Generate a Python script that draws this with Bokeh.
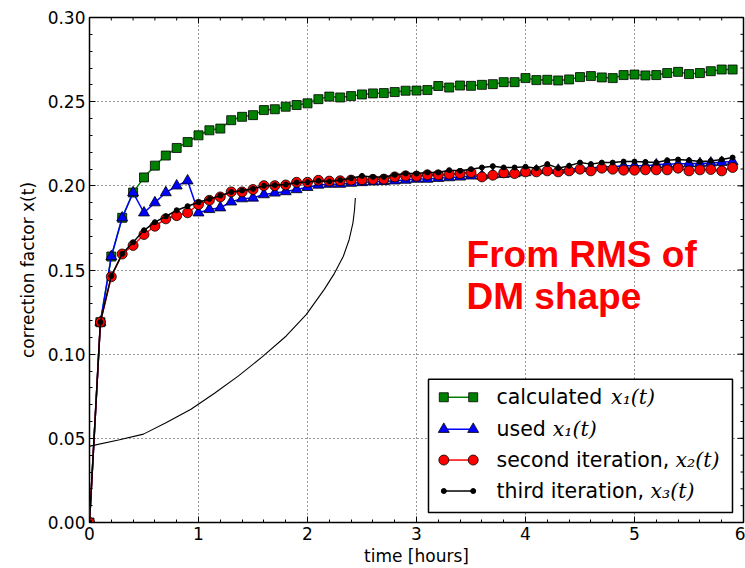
from bokeh.core.properties import value
from bokeh.embed import file_html
from bokeh.models import FixedTicker, PrintfTickFormatter, Range1d
from bokeh.plotting import figure
from bokeh.resources import INLINE

# ---------------------------------------------------------------- data
time_h = [0.0, 0.1, 0.2, 0.3, 0.4, 0.5, 0.6, 0.7, 0.8, 0.9,
          1.0, 1.1, 1.2, 1.3, 1.4, 1.5, 1.6, 1.7, 1.8, 1.9,
          2.0, 2.1, 2.2, 2.3, 2.4, 2.5, 2.6, 2.7, 2.8, 2.9,
          3.0, 3.1, 3.2, 3.3, 3.4, 3.5, 3.6, 3.7, 3.8, 3.9,
          4.0, 4.1, 4.2, 4.3, 4.4, 4.5, 4.6, 4.7, 4.8, 4.9,
          5.0, 5.1, 5.2, 5.3, 5.4, 5.5, 5.6, 5.7, 5.8, 5.9]

calculated_x1 = [0.0, 0.119, 0.158, 0.181, 0.196, 0.205, 0.212, 0.218, 0.2225, 0.226,
                 0.230, 0.233, 0.234, 0.239, 0.241, 0.242, 0.245, 0.2455, 0.247, 0.248,
                 0.249, 0.2515, 0.253, 0.2525, 0.2533, 0.2543, 0.2549, 0.2551, 0.2557, 0.2565,
                 0.2566, 0.2569, 0.2593, 0.2584, 0.2596, 0.2594, 0.2600, 0.2604, 0.2616, 0.2616,
                 0.2640, 0.2628, 0.2630, 0.2626, 0.2632, 0.2646, 0.2652, 0.2644, 0.2640, 0.2658,
                 0.2661, 0.2656, 0.2658, 0.2670, 0.2677, 0.2664, 0.2670, 0.2681, 0.2691, 0.2691]

used_x1 = [0.0, 0.119, 0.158, 0.181, 0.196, 0.184, 0.190, 0.196, 0.200, 0.203,
           0.184, 0.186, 0.187, 0.1905, 0.1924, 0.1928, 0.1948, 0.1958, 0.1966, 0.1978,
           0.1991, 0.2005, 0.2010, 0.2010, 0.2016, 0.2020, 0.2024, 0.2026, 0.2030, 0.2034,
           0.2040, 0.2040, 0.2045, 0.2049, 0.2053, 0.2059, 0.2059, 0.2065, 0.2069, 0.2073,
           0.2079, 0.2089, 0.2093, 0.2093, 0.2099, 0.2105, 0.2105, 0.2113, 0.2113, 0.2119,
           0.2119, 0.2119, 0.2125, 0.2129, 0.2129, 0.2132, 0.2132, 0.2136, 0.2140, 0.2144]

second_x2 = [0.0, 0.119, 0.146, 0.1595, 0.1646, 0.1711, 0.1760, 0.1804, 0.1823, 0.1840,
             0.1889, 0.1914, 0.1934, 0.1964, 0.1964, 0.1978, 0.2001, 0.2001, 0.2005, 0.2021,
             0.2021, 0.2033, 0.2028, 0.2030, 0.2034, 0.2036, 0.2038, 0.2040, 0.2053, 0.2059,
             0.2057, 0.2065, 0.2065, 0.2069, 0.2073, 0.2079, 0.2053, 0.2063, 0.2077, 0.2073,
             0.2083, 0.2083, 0.2089, 0.2083, 0.2089, 0.2099, 0.2089, 0.2105, 0.2099, 0.2093,
             0.2093, 0.2095, 0.2095, 0.2095, 0.2105, 0.2089, 0.2095, 0.2097, 0.2089, 0.2109]

third_x3 = [0.0, 0.119, 0.1465, 0.1596, 0.1665, 0.1736, 0.1784, 0.1819, 0.1855, 0.1879,
            0.1902, 0.1922, 0.1942, 0.1964, 0.1972, 0.1982, 0.2000, 0.2004, 0.2008, 0.2020,
            0.2022, 0.2030, 0.2026, 0.2034, 0.2045, 0.2059, 0.2053, 0.2053, 0.2065, 0.2073,
            0.2073, 0.2079, 0.2079, 0.2093, 0.2089, 0.2099, 0.2109, 0.2117, 0.2109, 0.2109,
            0.2113, 0.2105, 0.2129, 0.2105, 0.2119, 0.2138, 0.2129, 0.2138, 0.2138, 0.2144,
            0.2144, 0.2142, 0.2138, 0.2152, 0.2156, 0.2152, 0.2144, 0.2148, 0.2156, 0.2168]

x_ticks = [0, 1, 2, 3, 4, 5, 6]
y_ticks = [0.00, 0.05, 0.10, 0.15, 0.20, 0.25, 0.30]

# hand-drawn pointer stroke (data units; it runs off the axes on the left)
stroke_x = [-0.817, -0.404, 0.014, 0.266, 0.495, 0.706, 0.931, 1.147, 1.367,
            1.587, 1.805, 1.990, 2.154, 2.247, 2.329, 2.382, 2.417, 2.431, 2.439]
stroke_y = [0.0341, 0.0398, 0.0455, 0.0490, 0.0525, 0.0594, 0.0673, 0.0768, 0.0871,
            0.0985, 0.1108, 0.1236, 0.1385, 0.1480, 0.1582, 0.1680, 0.1780, 0.1855, 0.1928]

# ---------------------------------------------------------------- figure
FONT = "DejaVu Sans"
X0, X1, Y0, Y1 = 0, 6, 0.0, 0.30
FRAME_W, FRAME_H = 654, 506.5          # plot-area size in pixels

p = figure(width=745, height=568, output_backend="svg", toolbar_location=None,
           x_range=Range1d(X0, X1), y_range=Range1d(Y0, Y1),
           min_border_left=89, min_border_right=2, min_border_top=17,
           min_border_bottom=45)
p.background_fill_color = "white"
p.border_fill_color = "white"
p.outline_line_color = "black"
p.outline_line_width = 1.5

x_minor = [i * 0.2 for i in range(31)]
y_minor = [i * 0.01 for i in range(31)]
x_ticker = FixedTicker(ticks=x_ticks, minor_ticks=x_minor)
y_ticker = FixedTicker(ticks=y_ticks, minor_ticks=y_minor)

MAJOR_LEN, MINOR_LEN = 6, 3

for ax in (p.xaxis[0], p.yaxis[0]):
    ax.axis_line_color = None
    ax.major_tick_in = MAJOR_LEN
    ax.major_tick_out = 0
    ax.minor_tick_in = MINOR_LEN
    ax.minor_tick_out = 0
    ax.major_tick_line_color = "black"
    ax.minor_tick_line_color = "black"
    ax.major_label_text_font = FONT
    ax.major_label_text_font_size = "17px"
    ax.major_label_text_color = "black"
    ax.major_label_standoff = 4
    ax.axis_label_text_font = FONT
    ax.axis_label_text_font_size = "17px"
    ax.axis_label_text_font_style = "normal"
    ax.axis_label_text_color = "black"

xa = p.xaxis[0]
xa.ticker = x_ticker
xa.formatter = PrintfTickFormatter(format="%d")
xa.axis_label = "time [hours]"
xa.axis_label_standoff = 3

ya = p.yaxis[0]
ya.ticker = y_ticker
ya.formatter = PrintfTickFormatter(format="%.2f")
ya.axis_label = "correction factor x(t)"
ya.axis_label_standoff = 7

p.grid.grid_line_color = "black"
p.grid.grid_line_alpha = 0.8
p.grid.grid_line_width = 1
p.grid.grid_line_dash = "1 3"
p.xgrid.ticker = x_ticker
p.ygrid.ticker = y_ticker

# inward ticks along the top and right spines
dy_px = (Y1 - Y0) / FRAME_H
dx_px = (X1 - X0) / FRAME_W
for ticks, length in ((x_ticks, MAJOR_LEN), (x_minor, MINOR_LEN)):
    p.segment(x0=ticks, y0=[Y1] * len(ticks), x1=ticks,
              y1=[Y1 - length * dy_px] * len(ticks), line_color="black", line_width=1)
for ticks, length in ((y_ticks, MAJOR_LEN), (y_minor, MINOR_LEN)):
    p.segment(x0=[X1] * len(ticks), y0=ticks, x1=[X1 - length * dx_px] * len(ticks),
              y1=ticks, line_color="black", line_width=1)

# ---------------------------------------------------------------- series
MS = dict(line_color="black", line_width=0.8)
p.line(time_h, calculated_x1, line_color="#008000", line_width=1.5)
p.scatter(time_h, calculated_x1, marker="square", size=9, fill_color="#008000", **MS)

p.line(time_h, used_x1, line_color="#0000ff", line_width=1.5)
p.scatter(time_h, used_x1, marker="triangle", size=11, fill_color="#0000ff", **MS)

p.line(time_h, second_x2, line_color="#ff0000", line_width=1.5)
p.scatter(time_h, second_x2, marker="circle", size=10, fill_color="#ff0000", **MS)

p.line(time_h, third_x3, line_color="black", line_width=1.5)
p.scatter(time_h, third_x3, marker="circle", size=5, fill_color="black", line_color="black")

# ---------------------------------------------------------------- annotations
p.line(stroke_x, stroke_y, line_color="black", line_width=1.1)

for txt, yy in (("From RMS of", 0.1591), ("DM shape", 0.1343)):
    p.text(x=[3.459], y=[yy], text=[txt], text_font=value("Liberation Sans"),
           text_font_style="bold", text_font_size="37px", text_color="#ff0000",
           text_align="left", text_baseline="alphabetic")

# ---------------------------------------------------------------- legend
LEG_L, LEG_R, LEG_T, LEG_B = 3.110, 5.899, 0.0851, 0.0060
KEY_X0, KEY_X1, TEXT_X = 3.2505, 3.5202, 3.7339
rows = [0.0744, 0.0554, 0.0371, 0.0187]
entries = [
    ("calculated", "x\u2081(t)", 4.785, "#008000", "square", 9),
    ("used", "x\u2081(t)", 4.250, "#0000ff", "triangle", 11),
    ("second iteration,", "x\u2082(t)", 5.376, "#ff0000", "circle", 10),
    ("third iteration,", "x\u2083(t)", 5.147, "black", "dot", 5),
]

p.quad(left=[LEG_L], right=[LEG_R], top=[LEG_T], bottom=[LEG_B],
       fill_color="white", line_color="black", line_width=1.5, level="overlay")
for (label, math_txt, math_x, color, marker, size), yy in zip(entries, rows):
    p.line([KEY_X0, KEY_X1], [yy, yy], line_color=color, line_width=1.5, level="overlay")
    if marker == "dot":
        p.scatter([KEY_X0, KEY_X1], [yy, yy], marker="circle", size=size,
                  fill_color=color, line_color=color, level="overlay")
    else:
        p.scatter([KEY_X0, KEY_X1], [yy, yy], marker=marker, size=size,
                  fill_color=color, level="overlay", **MS)
    p.text(x=[TEXT_X], y=[yy], text=[label], text_font=value(FONT),
           text_font_size="20.5px", text_color="black", text_align="left",
           text_baseline="middle", level="overlay")
    p.text(x=[math_x], y=[yy], text=[math_txt], text_font=value("DejaVu Serif"),
           text_font_style="italic", text_font_size="20.5px", text_color="black",
           text_align="left", text_baseline="middle", level="overlay")

open("out.html", "w").write(file_html(p, INLINE))
